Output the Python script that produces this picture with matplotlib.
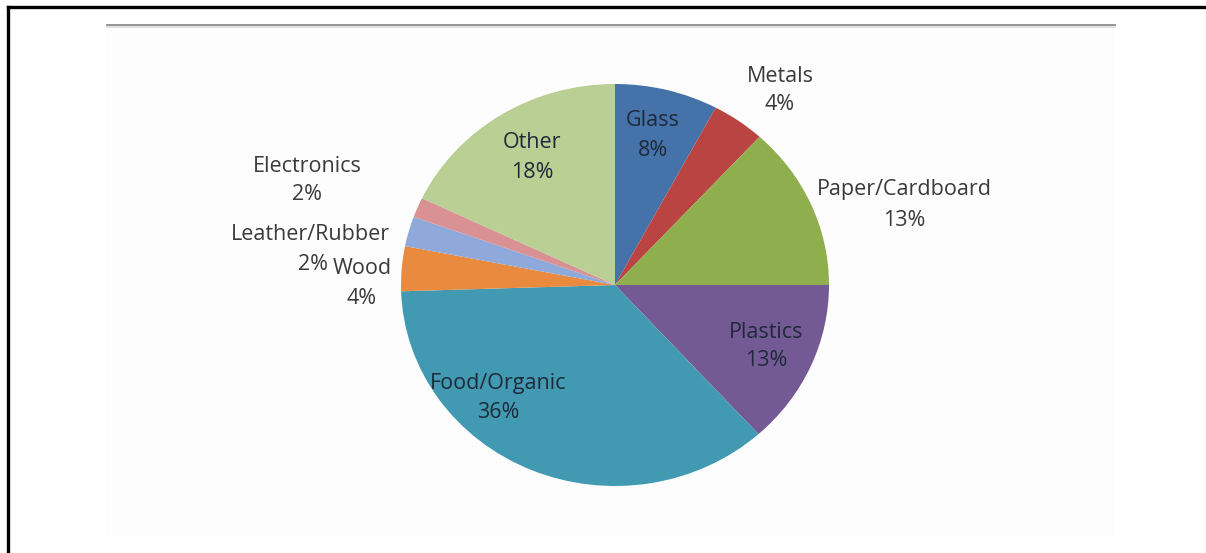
import matplotlib.pyplot as plt
from matplotlib.patches import Rectangle
from matplotlib.lines import Line2D

# waste composition (labels show rounded values)
categories = ['Glass', 'Metals', 'Paper/Cardboard', 'Plastics', 'Food/Organic',
              'Wood', 'Leather/Rubber', 'Electronics', 'Other']
shares = [7.8, 4.0, 13.2, 13.3, 36.2, 3.6, 2.4, 1.6, 17.9]
colors = ['#4672AA', '#B94441', '#8FAE4E', '#735A94', '#4299B2',
          '#E98A3E', '#8EA9DA', '#D99194', '#B9CF94']

# label placement in image pixels (centre of name line, centre of % line)
name_xy = [(653, 121), (780, 76), (904, 190), (766, 332), (498, 383),
           (362, 269), (310, 234), (307, 166), (532, 143)]
pct_xy = [(653, 151), (780, 104), (904, 220), (766, 361), (498, 412),
          (362, 298), (313, 264), (307, 194), (532, 172)]

W, H = 1206, 553
fig = plt.figure(figsize=(W / 100, H / 100), dpi=100)
fig.patch.set_facecolor('white')


def fx(px):
    return px / W


def fy(py):
    return 1 - py / H


# plot area background and its top rule
fig.patches.append(Rectangle((fx(107), fy(537)), 1008 / W, 512 / H,
                             transform=fig.transFigure, facecolor='#FDFDFD',
                             edgecolor='none', zorder=-5))
fig.lines.append(Line2D([fx(107), fx(1115)], [fy(25), fy(25)],
                        transform=fig.transFigure, color='#8C8C8C', lw=1.3,
                        zorder=-4))
fig.lines.append(Line2D([fx(107), fx(1115)], [fy(27), fy(27)],
                        transform=fig.transFigure, color='#DDDDDD', lw=1.2,
                        zorder=-4))

# outer black frame (top and left only)
fig.lines.append(Line2D([fx(8), 1.0], [fy(7), fy(7)],
                        transform=fig.transFigure, color='black', lw=2.4,
                        zorder=-4))
fig.lines.append(Line2D([fx(8), fx(8)], [0, fy(7)],
                        transform=fig.transFigure, color='black', lw=2.4,
                        zorder=-4))

ax = fig.add_axes([fx(401), fy(486), 428 / W, 402 / H])
ax.pie(shares, colors=colors, startangle=90, counterclock=False,
       wedgeprops=dict(linewidth=0))
ax.set_aspect('auto')
ax.set_xlim(-1, 1)
ax.set_ylim(-1, 1)
ax.axis('off')

inside = {'Glass', 'Plastics', 'Food/Organic', 'Other'}
for name, val, (nx, ny), (qx, qy) in zip(categories, shares, name_xy, pct_xy):
    col = '#1E2A3A' if name in inside else '#3A3A3A'
    fig.text(fx(nx), fy(ny), name, ha='center', va='center',
             fontsize=15.5, family='Open Sans', color=col)
    fig.text(fx(qx), fy(qy), f"{round(val)}%", ha='center', va='center',
             fontsize=15.5, family='Open Sans', color=col)

fig.savefig('out.png', dpi=100)
